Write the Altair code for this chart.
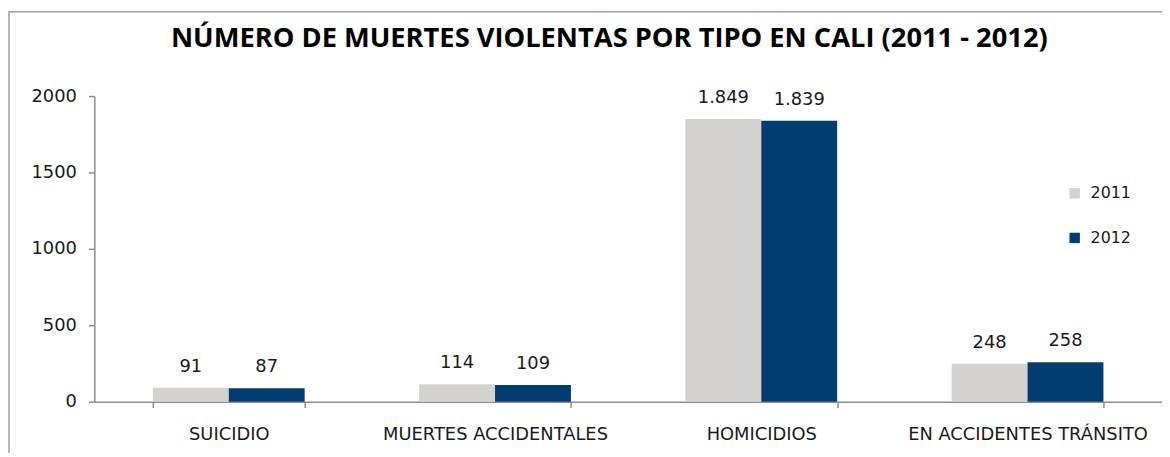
import altair as alt
import pandas as pd

categorias = ["SUICIDIO", "MUERTES ACCIDENTALES", "HOMICIDIOS", "EN ACCIDENTES  TRÁNSITO"]
anios = ["2011", "2012"]
valores_2011 = [91, 114, 1849, 248]
valores_2012 = [87, 109, 1839, 258]
colores = ["#D3D2CE", "#023D72"]
y_ticks = [0, 500, 1000, 1500, 2000]
titulo = "NÚMERO DE MUERTES VIOLENTAS POR TIPO EN CALI (2011 - 2012)"

rows = []
for anio, vals in zip(anios, [valores_2011, valores_2012]):
    for c, v in zip(categorias, vals):
        rows.append({"categoria": c, "anio": anio, "valor": v,
                     "etiqueta": f"{v:,}".replace(",", ".")})
df = pd.DataFrame(rows)

FONT = "DejaVu Sans"
TXT = "#1a1a1a"
W = 1076
x_enc = alt.X("categoria:N", sort=categorias, title=None,
              scale=alt.Scale(paddingInner=0.43, paddingOuter=0.22),
              axis=alt.Axis(labelAngle=0, tickBand="extent", tickSize=6,
                            labelPadding=18, labelFontSize=18, labelColor=TXT,
                            labelFont=FONT, domainColor="#8c8c8c", tickColor="#8c8c8c",
                            domainWidth=1.5, tickWidth=1.5, labelLimit=400))
xo_enc = alt.XOffset("anio:N", sort=anios, scale=alt.Scale(paddingInner=0, paddingOuter=0))
y_enc = alt.Y("valor:Q", title=None,
              scale=alt.Scale(domain=[0, 2000], nice=False),
              axis=alt.Axis(values=y_ticks, format="d", grid=False, tickSize=6, labelPadding=12,
                            labelFontSize=18, labelColor=TXT, labelFont=FONT,
                            domainColor="#8c8c8c", tickColor="#8c8c8c",
                            domainWidth=1.5, tickWidth=1.5))
color_enc = alt.Color("anio:N", sort=anios, title=None,
                      scale=alt.Scale(domain=anios, range=colores),
                      legend=alt.Legend(orient="none", legendX=980, legendY=90,
                                        symbolType="square", symbolSize=110,
                                        symbolStrokeWidth=0, rowPadding=29,
                                        labelFontSize=16, labelFont=FONT,
                                        labelColor=TXT, labelOffset=8))

bars = alt.Chart(df).mark_bar().encode(x=x_enc, xOffset=xo_enc, y=y_enc, color=color_enc)
texts = alt.Chart(df).mark_text(baseline="bottom", dy=-12, fontSize=18, font=FONT,
                                color=TXT).encode(
    x=alt.X("categoria:N", sort=categorias), xOffset=xo_enc, y="valor:Q", text="etiqueta:N")

frame = alt.Chart(alt.Data(values=[{"a": 1}])).mark_rect(
    fill=None, stroke="#a0a0a0", strokeWidth=1.5).encode(
    x=alt.value(-86), x2=alt.value(1200), y=alt.value(-85), y2=alt.value(500))

title_mark = alt.Chart(alt.Data(values=[{"t": titulo}])).mark_text(
    font="Open Sans", fontSize=27.5, fontWeight="bold", color="#000000",
    align="center", baseline="alphabetic").encode(
    x=alt.value(614 - 95), y=alt.value(-49), text="t:N")

chart = alt.layer(frame, bars, texts, title_mark).properties(
    width=W, height=308,
    autosize=alt.AutoSizeParams(type="none"),
    padding={"left": 87, "top": 87, "right": 0, "bottom": 50},
).configure_view(stroke=None)

chart.save("out.html", embed_options={"renderer": "svg", "actions": False})
